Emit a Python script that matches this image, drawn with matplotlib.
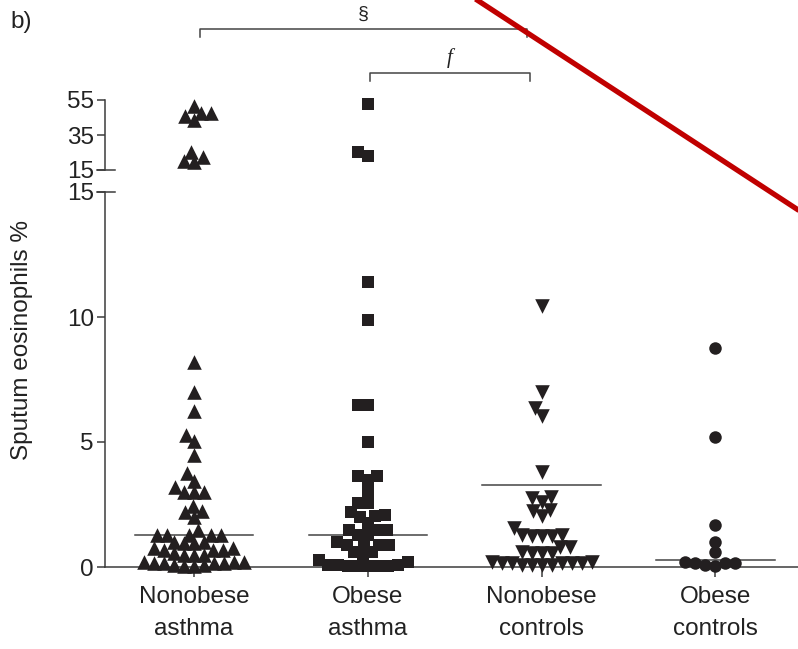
import numpy as np
import matplotlib
matplotlib.use("Agg")
import matplotlib.pyplot as plt
from matplotlib.lines import Line2D

plt.rcParams['font.family'] = ['Liberation Sans', 'DejaVu Sans']

# ---------------- data (sputum eosinophils %) ----------------
categories = ["Nonobese\nasthma", "Obese\nasthma", "Nonobese\ncontrols", "Obese\ncontrols"]

nonobese_asthma = [51.5, 47.5, 46.0, 43.5, 47.5, 22.5, 20.0, 19.5, 25.0,
                   8.2, 7.0, 6.25, 5.3, 5.05, 4.5, 3.75, 3.45, 3.0, 3.0, 3.0, 3.2,
                   2.45, 2.2, 2.25, 2.0, 1.5, 1.3, 1.3, 1.3, 1.3, 1.3,
                   1.0, 1.0, 0.95, 0.95, 0.75, 0.7, 0.7, 0.7, 0.75, 0.5, 0.5, 0.55, 0.5,
                   0.2, 0.15, 0.2, 0.15, 0.15, 0.2, 0.15, 0.1, 0.05, 0.05, 0.1]
obese_asthma = [53.0, 25.3, 23.0,
                11.4, 9.9, 6.5, 6.5, 5.0, 3.65, 3.65, 3.5, 3.0, 2.55, 2.55, 2.2,
                2.1, 2.0, 2.05, 1.75, 1.5, 1.5, 1.5, 1.3, 1.3, 1.0, 0.9, 0.9, 0.9,
                0.85, 0.6, 0.6, 0.4, 0.3, 0.1, 0.05, 0.05, 0.05, 0.05, 0.1, 0.05,
                0.2, 0.1]
nonobese_controls = [10.45, 7.0, 6.35, 6.05, 3.8, 2.75, 2.6, 2.8, 2.3, 2.25, 2.05,
                     1.55, 1.25, 1.3, 1.3, 1.25, 1.25, 0.8, 0.8, 0.55, 0.55, 0.55, 0.6,
                     0.15, 0.15, 0.1, 0.15, 0.1, 0.15, 0.2, 0.2, 0.15, 0.1, 0.1]
obese_controls = [8.75, 5.2, 1.7, 1.0, 0.6, 0.2, 0.15, 0.05, 0.1, 0.15, 0.15]

group_lines = [1.3, 1.28, 3.3, 0.3]   # horizontal summary lines

lower_ticks = [0, 5, 10, 15]
upper_ticks = [15, 35, 55]

# ---------------- figure ----------------
W_PX, H_PX = 798, 649
fig = plt.figure(figsize=(W_PX / 100, H_PX / 100), dpi=100)

left = 105 / W_PX
width = 693 / W_PX
ax_lo = fig.add_axes([left, (H_PX - 567) / H_PX, width, 375 / H_PX])
ax_hi = fig.add_axes([left, (H_PX - 170) / H_PX, width, 70 / H_PX])

XLIM = (-0.511, 3.475)
ink = '#231f20'
spine_c = '#3c3c3c'

for ax in (ax_lo, ax_hi):
    ax.set_xlim(*XLIM)
    ax.spines['top'].set_visible(False)
    ax.spines['right'].set_visible(False)
    ax.spines['left'].set_color(spine_c)
    ax.spines['left'].set_linewidth(1.1)
    ax.tick_params(axis='y', direction='out', length=6, width=1.1, color=spine_c,
                   labelsize=17.5, pad=2, labelcolor='#222222')
    ax.patch.set_alpha(0)

ax_lo.set_ylim(0, 15)
ax_hi.set_ylim(15, 55)
ax_lo.set_yticks(lower_ticks)
ax_hi.set_yticks(upper_ticks)
ax_lo.spines['bottom'].set_color(spine_c)
ax_lo.spines['bottom'].set_linewidth(1.1)
ax_lo.set_xticks(range(len(categories)))
ax_lo.set_xticklabels(categories, fontsize=17.5, color='#222222', linespacing=1.55)
ax_lo.tick_params(axis='x', direction='out', length=7, width=1.1, color=spine_c, pad=7)
ax_hi.spines['bottom'].set_visible(False)
ax_hi.set_xticks([])

# break marks at 15 (extend tick to the inside of the spine)
for ax in (ax_lo, ax_hi):
    y15 = ax.transData.transform((0, 15))[1]
    x0 = ax.transAxes.transform((0, 0))[0]
    fig.add_artist(Line2D([(x0 - 8) / W_PX, (x0 + 10) / W_PX], [y15 / H_PX] * 2,
                          color=spine_c, lw=1.1))


# ---------------- swarm placement ----------------
def swarm_offsets(ax, cat, vals, dmin=10.0, step=0.5, first=-1):
    vals = np.asarray(vals, float)
    pix = ax.transData.transform(np.column_stack([np.full(len(vals), cat), vals]))
    yp = pix[:, 1]
    order = np.argsort(yp, kind='stable')
    placed = []
    offs = np.zeros(len(vals))
    for i in order:
        k = 0
        while True:
            cands = [0.0] if k == 0 else [first * k * step, -first * k * step]
            ok = None
            for c in cands:
                if all((c - px) ** 2 + (yp[i] - py) ** 2 >= dmin ** 2
                       for px, py in placed):
                    ok = c
                    break
            if ok is not None:
                break
            k += 1
        placed.append((ok, yp[i]))
        offs[i] = ok
    px_per_unit = ax.transData.transform((1, 0))[0] - ax.transData.transform((0, 0))[0]
    return cat + offs / px_per_unit


groups = [nonobese_asthma, obese_asthma, nonobese_controls, obese_controls]
markers = ['^', 's', 'v', 'o']
msizes = [10.5, 8.8, 10.5, 9.0]

for ci, (vals, mk, ms) in enumerate(zip(groups, markers, msizes)):
    vals = np.asarray(vals)
    lo = vals[vals <= 15]
    hi = vals[vals > 15]
    for ax, v in ((ax_lo, lo), (ax_hi, hi)):
        if len(v) == 0:
            continue
        xs = swarm_offsets(ax, ci, v, dmin=10.0)
        ax.scatter(xs, v, marker=mk, s=ms ** 2, color=ink, linewidths=0,
                   clip_on=False, zorder=3)
    ax_lo.plot([ci - 0.34, ci + 0.34], [group_lines[ci]] * 2, color='#444444',
               lw=1.1, zorder=2)

# ---------------- text & annotations ----------------
fig.text(22 / W_PX, 1 - 340 / H_PX, "Sputum eosinophils %", rotation=90,
         ha='center', va='center', fontsize=17.5, color='#222222')
fig.text(10 / W_PX, 1 - 22 / H_PX, "b)", ha='left', va='center', fontsize=17.5,
         color='#222222')


def bracket(x0, x1, y, drop, label, ly, **kw):
    fig.add_artist(Line2D([x0 / W_PX, x0 / W_PX, x1 / W_PX, x1 / W_PX],
                          [1 - (y + drop) / H_PX, 1 - y / H_PX, 1 - y / H_PX,
                           1 - (y + drop) / H_PX], color='#444444', lw=1.1))
    fig.text((x0 + x1) / 2 / W_PX, 1 - ly / H_PX, label, ha='center', va='center',
             color='#222222', **kw)


bracket(200, 527, 29, 8, "§", 14, fontsize=14)
bracket(370, 530, 73, 8, "f", 58, fontsize=15, style='italic',
        family=['Liberation Serif', 'DejaVu Serif'])

# red diagonal stroke
fig.add_artist(Line2D([474 / W_PX, 812 / W_PX], [1.0 + 2 / H_PX, 1 - 219 / H_PX],
                      color='#c00000', lw=3.8, solid_capstyle='butt'))

fig.savefig("out.png", dpi=100)
